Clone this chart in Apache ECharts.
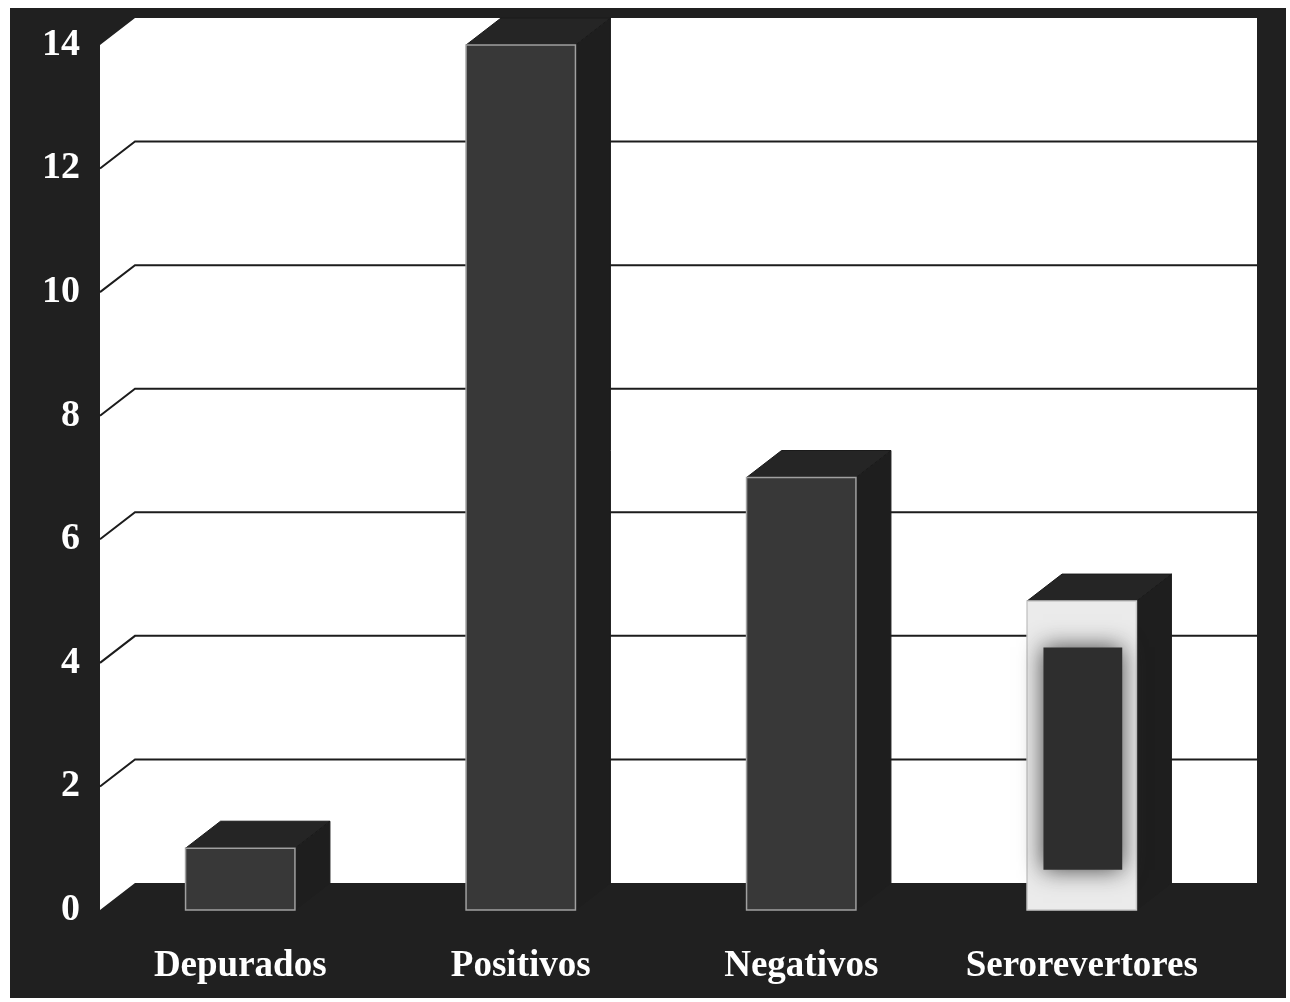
<!DOCTYPE html>
<html>
<head>
<meta charset="utf-8">
<script src="https://cdn.jsdelivr.net/npm/echarts@6/dist/echarts.min.js"></script>
<style>
  html, body { margin: 0; padding: 0; background: #ffffff; }
  #chart { width: 1290px; height: 1002px; }
</style>
</head>
<body>
<div id="chart"></div>
<script>
// Categories and counts
const categories = ['Depurados', 'Positivos', 'Negativos', 'Serorevertores'];
const values = [1, 14, 7, 5];
const yTicks = [0, 2, 4, 6, 8, 10, 12, 14];

// Perspective offset of the back plane, in pixels
const DX = 35;
const DY = -27;

// Front-face look per bar
const faceKinds = ['dark', 'dark', 'dark', 'light'];

const FONT = "'Liberation Serif', 'Times New Roman', serif";
const chart = echarts.init(document.getElementById('chart'));

// White walls (left side + back) with slanted grid lines
function renderWalls(params, api) {
  const cs = params.coordSys;
  const x0 = cs.x, x1 = cs.x + cs.width;
  const yT = api.coord([0, yTicks[yTicks.length - 1]])[1];
  const yB = api.coord([0, 0])[1];
  const children = [{
    type: 'polygon',
    shape: { points: [[x0, yT], [x0 + DX, yT + DY], [x1 + DX, yT + DY], [x1 + DX, yB + DY], [x0 + DX, yB + DY], [x0, yB]] },
    style: { fill: '#ffffff' }
  }];
  yTicks.slice(1, -1).forEach(function (v) {
    const y = api.coord([0, v])[1];
    children.push({
      type: 'polyline',
      shape: { points: [[x0, y], [x0 + DX, y + DY], [x1 + DX, y + DY]] },
      style: { stroke: '#1c1c1c', lineWidth: 2, fill: null }
    });
  });
  return { type: 'group', children: children };
}

// 3D bar: side, top and front faces
function renderBar(params, api) {
  const i = api.value(0);
  const v = api.value(1);
  const base = api.coord([i, 0]);
  const top = api.coord([i, v]);
  const bw = api.size([1, 0])[0] * 0.39;
  const xl = base[0] - bw / 2, xr = base[0] + bw / 2;
  const yb = base[1], yt = top[1];
  const h = yb - yt;
  const children = [
    {
      type: 'polygon',
      shape: { points: [[xr, yt], [xr + DX, yt + DY], [xr + DX, yb + DY], [xr, yb]] },
      style: { fill: '#1e1e1e', stroke: '#1e1e1e', lineWidth: 1 }
    },
    {
      type: 'polygon',
      shape: { points: [[xl, yt], [xl + DX, yt + DY], [xr + DX, yt + DY], [xr, yt]] },
      style: { fill: '#252525', stroke: '#1a1a1a', lineWidth: 1 }
    }
  ];
  if (faceKinds[i] === 'light') {
    children.push({
      type: 'rect',
      shape: { x: xl, y: yt, width: bw, height: h },
      style: { fill: '#ebebeb', stroke: '#c8c8c8', lineWidth: 1.5 }
    });
    children.push({
      type: 'rect',
      shape: { x: xl + bw * 0.15, y: yt + h * 0.15, width: bw * 0.72, height: h * 0.72 },
      style: {
        fill: '#2e2e2e',
        shadowBlur: 22,
        shadowColor: 'rgba(60,60,60,0.95)'
      }
    });
  } else {
    children.push({
      type: 'rect',
      shape: { x: xl, y: yt, width: bw, height: h },
      style: { fill: '#383838', stroke: '#a0a0a0', lineWidth: 1.5 }
    });
  }
  return { type: 'group', children: children };
}

chart.setOption({
  backgroundColor: '#ffffff',
  animation: false,
  graphic: [{
    type: 'rect',
    left: 10, top: 8,
    shape: { width: 1276, height: 990 },
    style: { fill: '#202020' },
    z: 0
  }],
  grid: { left: 100, right: 68, top: 45, bottom: 92 },
  xAxis: {
    type: 'category',
    data: categories,
    axisLine: { show: false },
    axisTick: { show: false },
    axisLabel: {
      interval: 0,
      color: '#ffffff', fontFamily: FONT, fontWeight: 'bold', fontSize: 37, margin: 38
    },
    splitLine: { show: false }
  },
  yAxis: {
    type: 'value',
    min: 0, max: 14, interval: 2,
    axisLine: { show: false },
    axisTick: { show: false },
    splitLine: { show: false },
    axisLabel: {
      color: '#ffffff', fontFamily: FONT, fontWeight: 'bold', fontSize: 38, margin: 20
    }
  },
  series: [
    {
      type: 'custom',
      renderItem: renderWalls,
      data: [[0, 0]],
      z: 1,
      silent: true
    },
    {
      type: 'custom',
      renderItem: renderBar,
      data: values.map(function (v, i) { return [i, v]; }),
      z: 3
    }
  ]
});
</script>
</body>
</html>
